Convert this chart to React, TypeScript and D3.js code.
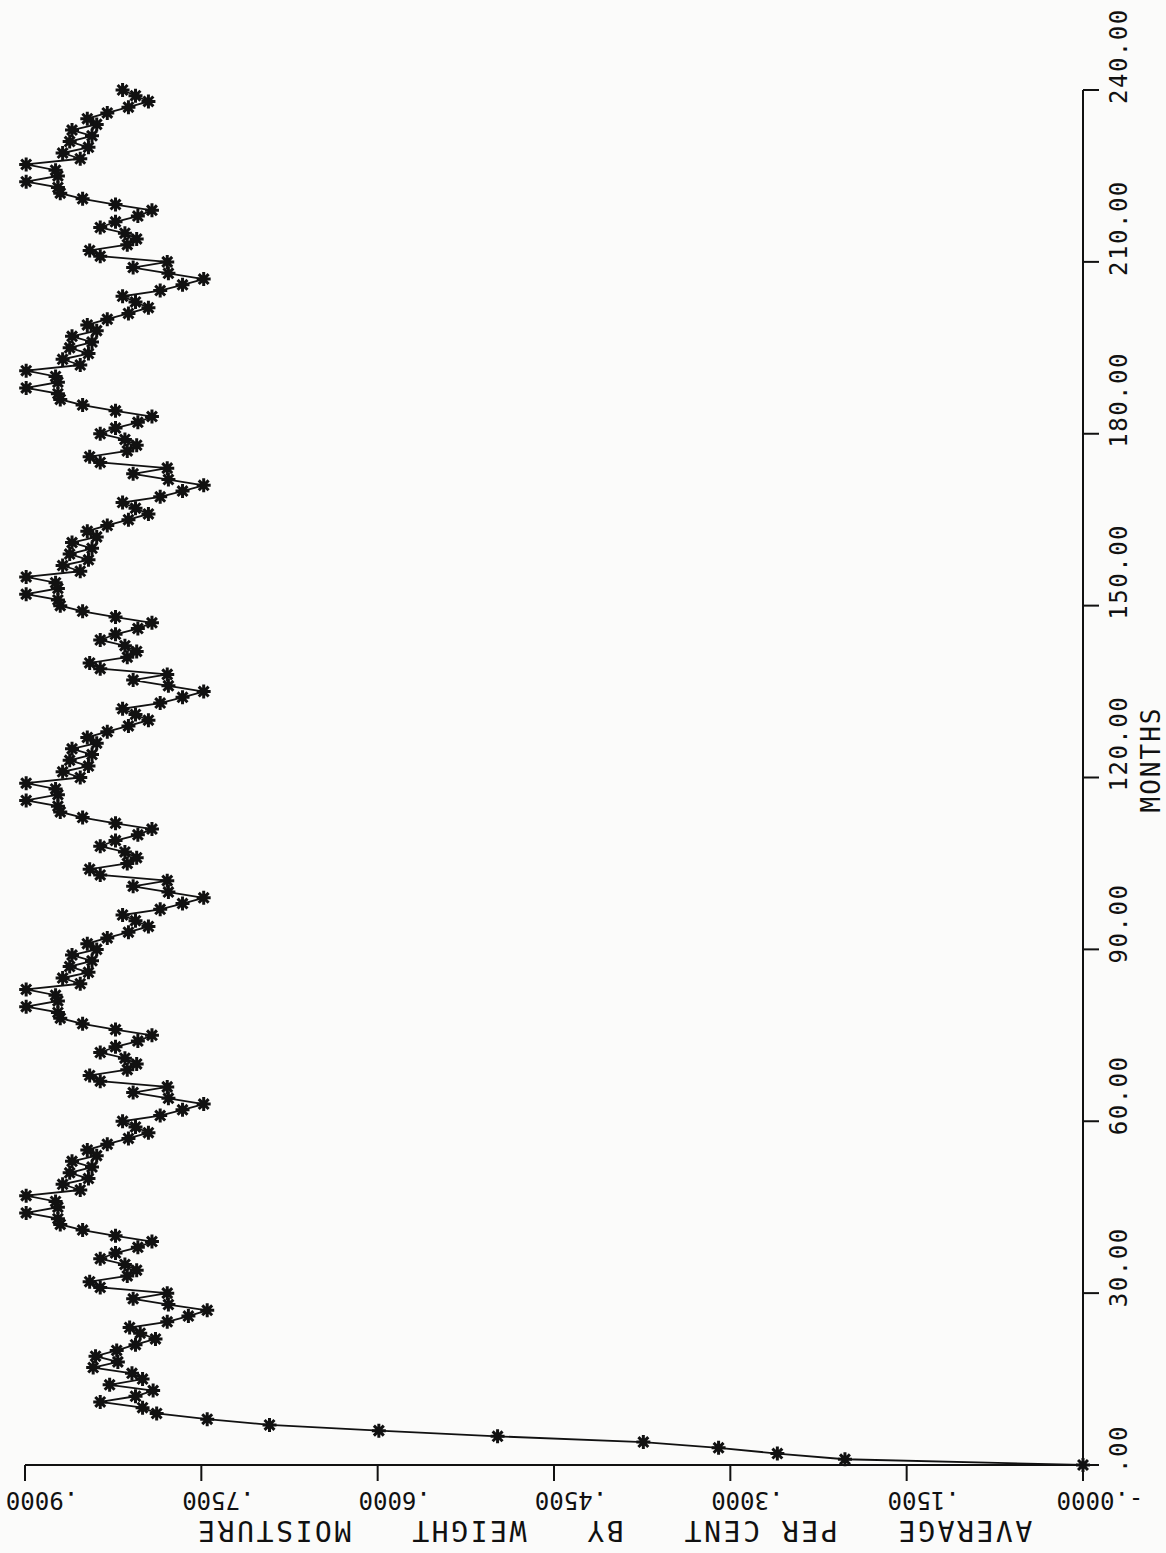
import React from "react";
import * as d3 from "d3";

const W = 1166;
const H = 1553;

// Month axis ticks (vertical axis, rotated chart)
const monthTicks = [0, 30, 60, 90, 120, 150, 180, 210, 240];
const monthTickLabels = [".00", "30.00", "60.00", "90.00", "120.00", "150.00", "180.00", "210.00", "240.00"];

// Moisture axis ticks (horizontal axis)
const valueTicks = [0, 0.15, 0.3, 0.45, 0.6, 0.75, 0.9];
const valueTickLabels = ["-.0000", ".1500", ".3000", ".4500", ".6000", ".7500", ".9000"];

// Months 0-8: initial wetting
const moistureRise = [0, 0.2025, 0.26, 0.31, 0.374, 0.498, 0.599, 0.692, 0.745];
// Months 9-35: first cycle
const moistureYear1 = [
  0.788, 0.8, 0.836, 0.806, 0.791, 0.828, 0.8, 0.809, 0.842, 0.821, 0.84, 0.822, 0.806, 0.789,
  0.802, 0.811, 0.779, 0.761, 0.745, 0.778, 0.808, 0.779, 0.836, 0.845, 0.813, 0.805, 0.815,
];
// Months 36-71
const moistureYear2 = [
  0.836, 0.823, 0.804, 0.792, 0.823, 0.851, 0.87, 0.872, 0.899, 0.872, 0.874, 0.899, 0.853, 0.868,
  0.846, 0.862, 0.843, 0.86, 0.839, 0.847, 0.83, 0.812, 0.795, 0.806, 0.817, 0.785, 0.766, 0.748,
  0.778, 0.808, 0.779, 0.836, 0.845, 0.813, 0.805, 0.815,
];
// Months 72-107
const moistureYear3 = [
  0.836, 0.823, 0.804, 0.792, 0.823, 0.851, 0.87, 0.872, 0.899, 0.872, 0.874, 0.899, 0.853, 0.868,
  0.846, 0.862, 0.843, 0.86, 0.839, 0.847, 0.83, 0.812, 0.795, 0.806, 0.817, 0.785, 0.766, 0.748,
  0.778, 0.808, 0.779, 0.836, 0.845, 0.813, 0.805, 0.815,
];
// Months 108-143
const moistureYear4 = [
  0.836, 0.823, 0.804, 0.792, 0.823, 0.851, 0.87, 0.872, 0.899, 0.872, 0.874, 0.899, 0.853, 0.868,
  0.846, 0.862, 0.843, 0.86, 0.839, 0.847, 0.83, 0.812, 0.795, 0.806, 0.817, 0.785, 0.766, 0.748,
  0.778, 0.808, 0.779, 0.836, 0.845, 0.813, 0.805, 0.815,
];
// Months 144-179
const moistureYear5 = [
  0.836, 0.823, 0.804, 0.792, 0.823, 0.851, 0.87, 0.872, 0.899, 0.872, 0.874, 0.899, 0.853, 0.868,
  0.846, 0.862, 0.843, 0.86, 0.839, 0.847, 0.83, 0.812, 0.795, 0.806, 0.817, 0.785, 0.766, 0.748,
  0.778, 0.808, 0.779, 0.836, 0.845, 0.813, 0.805, 0.815,
];
// Months 180-215
const moistureYear6 = [
  0.836, 0.823, 0.804, 0.792, 0.823, 0.851, 0.87, 0.872, 0.899, 0.872, 0.874, 0.899, 0.853, 0.868,
  0.846, 0.862, 0.843, 0.86, 0.839, 0.847, 0.83, 0.812, 0.795, 0.806, 0.817, 0.785, 0.766, 0.748,
  0.778, 0.808, 0.779, 0.836, 0.845, 0.813, 0.805, 0.815,
];
// Months 216-240
const moistureYear7 = [
  0.836, 0.823, 0.804, 0.792, 0.823, 0.851, 0.87, 0.872, 0.899, 0.872, 0.874, 0.899, 0.853, 0.868,
  0.846, 0.862, 0.843, 0.86, 0.839, 0.847, 0.83, 0.812, 0.795, 0.806, 0.817,
];

const moisture = [
  ...moistureRise,
  ...moistureYear1,
  ...moistureYear2,
  ...moistureYear3,
  ...moistureYear4,
  ...moistureYear5,
  ...moistureYear6,
  ...moistureYear7,
];

const xTitle = "MONTHS";
const yTitle = "AVERAGE   PER CENT   BY   WEIGHT   MOISTURE";

const FONT = "'DejaVu Sans Mono', monospace";
const INK = "#111";

export default function App() {
  const monthScale = d3.scaleLinear().domain([0, 240]).range([1465, 90]);
  const valueScale = d3.scaleLinear().domain([0, 0.9]).range([1083, 25]);

  const axisX = valueScale(0);
  const axisY = monthScale(0);
  const tick = 16;

  const points = moisture.map((v, i) => [valueScale(v), monthScale(i)] as [number, number]);
  const line = d3.line().curve(d3.curveLinear)(points) || "";

  const r = 7;
  const a = r * 0.707;
  const star = `M${-r},0L${r},0M0,${-r}L0,${r}M${-a},${-a}L${a},${a}M${-a},${a}L${a},${-a}`;

  return (
    <svg
      width={W}
      height={H}
      style={{ position: "absolute", left: 0, top: 0, background: "#fbfbfa" }}
    >
      {/* month axis (vertical) */}
      <line x1={axisX} y1={monthScale(240)} x2={axisX} y2={axisY + tick} stroke={INK} strokeWidth={2} />
      {monthTicks.map((m, i) => (
        <g key={"mt" + m}>
          <line x1={axisX} x2={axisX + tick} y1={monthScale(m)} y2={monthScale(m)} stroke={INK} strokeWidth={2} />
          <text
            transform={`translate(${axisX + 44},${monthScale(m) + (m === 0 ? 8 : 14)}) rotate(-90)`}
            fontFamily={FONT}
            fontSize={24}
            letterSpacing={1.5}
            fill={INK}
            textAnchor="start"
          >
            {monthTickLabels[i]}
          </text>
        </g>
      ))}
      <text
        transform={`translate(${axisX + 77},${monthScale(120) - 18}) rotate(-90)`}
        fontFamily={FONT}
        fontSize={26}
        letterSpacing={2}
        fill={INK}
        textAnchor="middle"
      >
        {xTitle}
      </text>

      {/* value axis (horizontal) */}
      <line x1={valueScale(0.9)} y1={axisY} x2={axisX + tick} y2={axisY} stroke={INK} strokeWidth={2} />
      {valueTicks.map((v, i) => (
        <g key={"vt" + v}>
          <line x1={valueScale(v)} x2={valueScale(v)} y1={axisY} y2={axisY + tick} stroke={INK} strokeWidth={2} />
          <text
            transform={`translate(${valueScale(v) + 17},${axisY + 27}) rotate(180)`}
            fontFamily={FONT}
            fontSize={24}
            fill={INK}
            textAnchor="middle"
          >
            {valueTickLabels[i]}
          </text>
        </g>
      ))}
      <text
        transform={`translate(614,${axisY + 56}) rotate(180)`}
        fontFamily={FONT}
        fontSize={28}
        letterSpacing={2.6}
        fill={INK}
        textAnchor="middle"
        style={{ whiteSpace: "pre" }}
      >
        {yTitle}
      </text>

      {/* data */}
      <path d={line} fill="none" stroke={INK} strokeWidth={1.8} />
      {points.map((p, i) => (
        <path key={"s" + i} d={star} transform={`translate(${p[0]},${p[1]})`} stroke={INK} strokeWidth={3} fill="none" />
      ))}
    </svg>
  );
}
